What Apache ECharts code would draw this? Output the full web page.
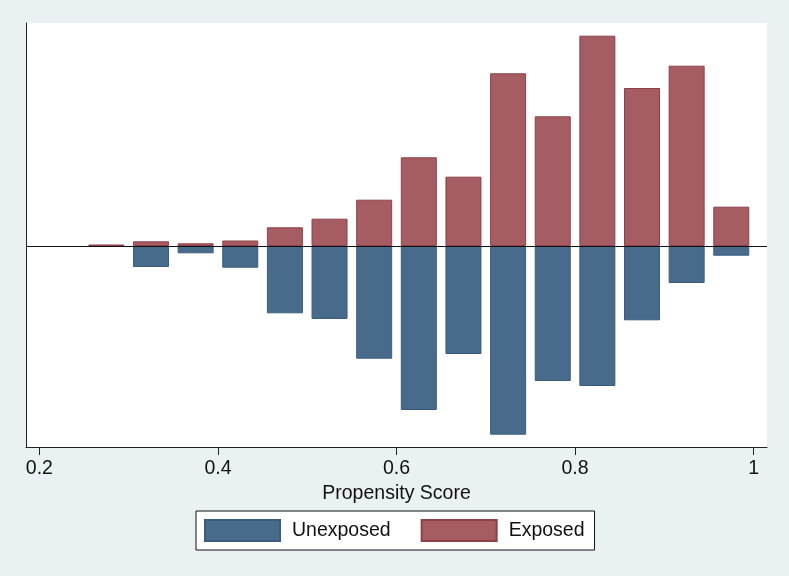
<!DOCTYPE html>
<html>
<head>
<meta charset="utf-8">
<script src="https://cdn.jsdelivr.net/npm/echarts@6/dist/echarts.min.js"></script>
<style>
html,body{margin:0;padding:0;background:#e9f1f3;}
#c{width:789px;height:576px;}
</style>
</head>
<body>
<div id="c"></div>
<script>
// Bin centers of the propensity score histogram
const binCenters = [0.275, 0.325, 0.375, 0.425, 0.475, 0.525, 0.575, 0.625, 0.675, 0.725, 0.775, 0.825, 0.875, 0.925, 0.975];
// Exposed densities (plotted upward)
const exposed = [0.015, 0.047, 0.027, 0.055, 0.187, 0.273, 0.463, 0.887, 0.693, 1.727, 1.297, 2.103, 1.58, 1.803, 0.393];
// Unexposed densities (plotted downward, as negative values)
const unexposed = [-0.005, -0.21, -0.073, -0.217, -0.673, -0.73, -1.127, -1.64, -1.08, -1.887, -1.35, -1.4, -0.743, -0.37, -0.097];
const xTicks = [0.2, 0.4, 0.6, 0.8, 1];
const seriesNames = ['Unexposed', 'Exposed'];

const font = '"Liberation Sans", Arial, Helvetica, sans-serif';
const chart = echarts.init(document.getElementById('c'));
chart.setOption({
  backgroundColor: '#e9f1f3',
  animation: false,
  textStyle: { fontFamily: font },
  grid: { left: 26, right: 22, top: 23, bottom: 129, show: true, backgroundColor: '#ffffff', borderWidth: 0 },
  legend: {
    data: seriesNames,
    left: 196, top: 511,
    orient: 'horizontal',
    icon: 'rect',
    itemWidth: 75, itemHeight: 21,
    itemGap: 30,
    padding: [8, 10, 8, 8],
    borderColor: '#111', borderWidth: 1,
    backgroundColor: '#ffffff',
    textStyle: { fontSize: 19.5, color: '#111', fontFamily: font, padding: [0, 0, 0, 7] },
    selectedMode: false
  },
  xAxis: {
    type: 'value',
    min: 0.185, max: 1.015,
    name: 'Propensity Score',
    nameLocation: 'middle',
    nameGap: 31,
    nameTextStyle: { fontSize: 19.5, color: '#111', fontFamily: font },
    axisLine: { show: true, onZero: false, lineStyle: { color: '#222', width: 1 } },
    axisTick: { show: true, length: 8, customValues: xTicks, lineStyle: { color: '#222' } },
    axisLabel: {
      customValues: xTicks, margin: 12, fontSize: 19.5, color: '#111', fontFamily: font,
      formatter: v => String(parseFloat(v.toFixed(2)))
    },
    splitLine: { show: false }
  },
  yAxis: {
    type: 'value',
    min: -2.01, max: 2.23,
    axisLine: { show: true, onZero: false, lineStyle: { color: '#222', width: 1 } },
    axisTick: { show: false },
    axisLabel: { show: false },
    splitLine: { show: false }
  },
  series: [
    {
      name: seriesNames[0], type: 'bar',
      data: binCenters.map((x, i) => [x, unexposed[i]]),
      barWidth: 36, barGap: '-100%',
      itemStyle: { color: '#496b8b', borderColor: '#3a5d7e', borderWidth: 1 },
      z: 2
    },
    {
      name: seriesNames[1], type: 'bar',
      data: binCenters.map((x, i) => [x, exposed[i]]),
      barWidth: 36, barGap: '-100%',
      itemStyle: { color: '#a55c62', borderColor: '#8e4049', borderWidth: 1 },
      z: 2,
      markLine: {
        silent: true, symbol: 'none', label: { show: false },
        lineStyle: { color: '#111', width: 1, type: 'solid' },
        data: [{ yAxis: 0 }],
        z: 5
      }
    }
  ]
});
</script>
</body>
</html>
